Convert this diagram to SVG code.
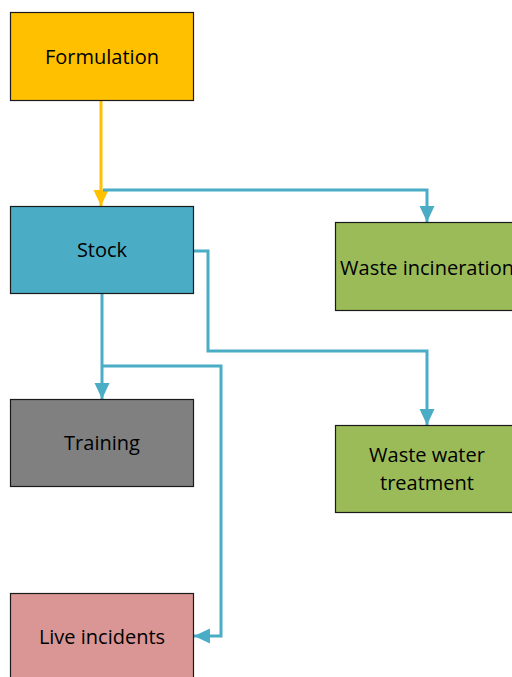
<svg xmlns="http://www.w3.org/2000/svg" width="512" height="677" viewBox="0 0 512 677">
<style>
.box{stroke:#1a1a1a;stroke-width:1.2}
.t{font-family:"Open Sans","Liberation Sans",sans-serif;font-size:20px;fill:#000;text-anchor:middle}
.c{fill:none;stroke:#4BACC6;stroke-width:3}
</style>
<defs>
<marker id="ab" markerUnits="userSpaceOnUse" markerWidth="17" markerHeight="16" refX="16" refY="7.5" orient="auto"><path d="M0,0 L16,7.5 L0,15 Z" fill="#4BACC6"/></marker>
<marker id="ao" markerUnits="userSpaceOnUse" markerWidth="17" markerHeight="16" refX="16" refY="7.5" orient="auto"><path d="M0,0 L16,7.5 L0,15 Z" fill="#FFC000"/></marker>
</defs>
<rect width="512" height="677" fill="#fff"/>
<g id="connectors">
<path d="M101,100 L101,206" fill="none" stroke="#FFC000" stroke-width="3" marker-end="url(#ao)"/>
<path class="c" d="M103,190 L427,190 L427,222" marker-end="url(#ab)"/>
<path class="c" d="M193,251 L208,251 L208,351 L427,351 L427,425" marker-end="url(#ab)"/>
<path class="c" d="M102,293 L102,399" marker-end="url(#ab)"/>
<path class="c" d="M102,366 L221,366 L221,636 L194,636" marker-end="url(#ab)"/>
</g>
<g id="formulation"><rect class="box" x="10.5" y="12.5" width="183" height="88" fill="#FFC000"/><text class="t" x="102" y="64">Formulation</text></g>
<g id="stock"><rect class="box" x="10.5" y="206.5" width="183" height="87" fill="#4BACC6"/><text class="t" x="102" y="257">Stock</text></g>
<g id="training"><rect class="box" x="10.5" y="399.5" width="183" height="87" fill="#808080"/><text class="t" x="102" y="450">Training</text></g>
<g id="live"><rect class="box" x="10.5" y="593.5" width="183" height="90" fill="#D99694"/><text class="t" x="102" y="644">Live incidents</text></g>
<g id="incineration"><rect class="box" x="335.5" y="222.5" width="183" height="88" fill="#9BBB59"/><text class="t" x="427" y="275">Waste incineration</text></g>
<g id="wastewater"><rect class="box" x="335.5" y="425.5" width="183" height="87" fill="#9BBB59"/><text class="t" x="427" y="462">Waste water</text><text class="t" x="427" y="490">treatment</text></g>
</svg>
